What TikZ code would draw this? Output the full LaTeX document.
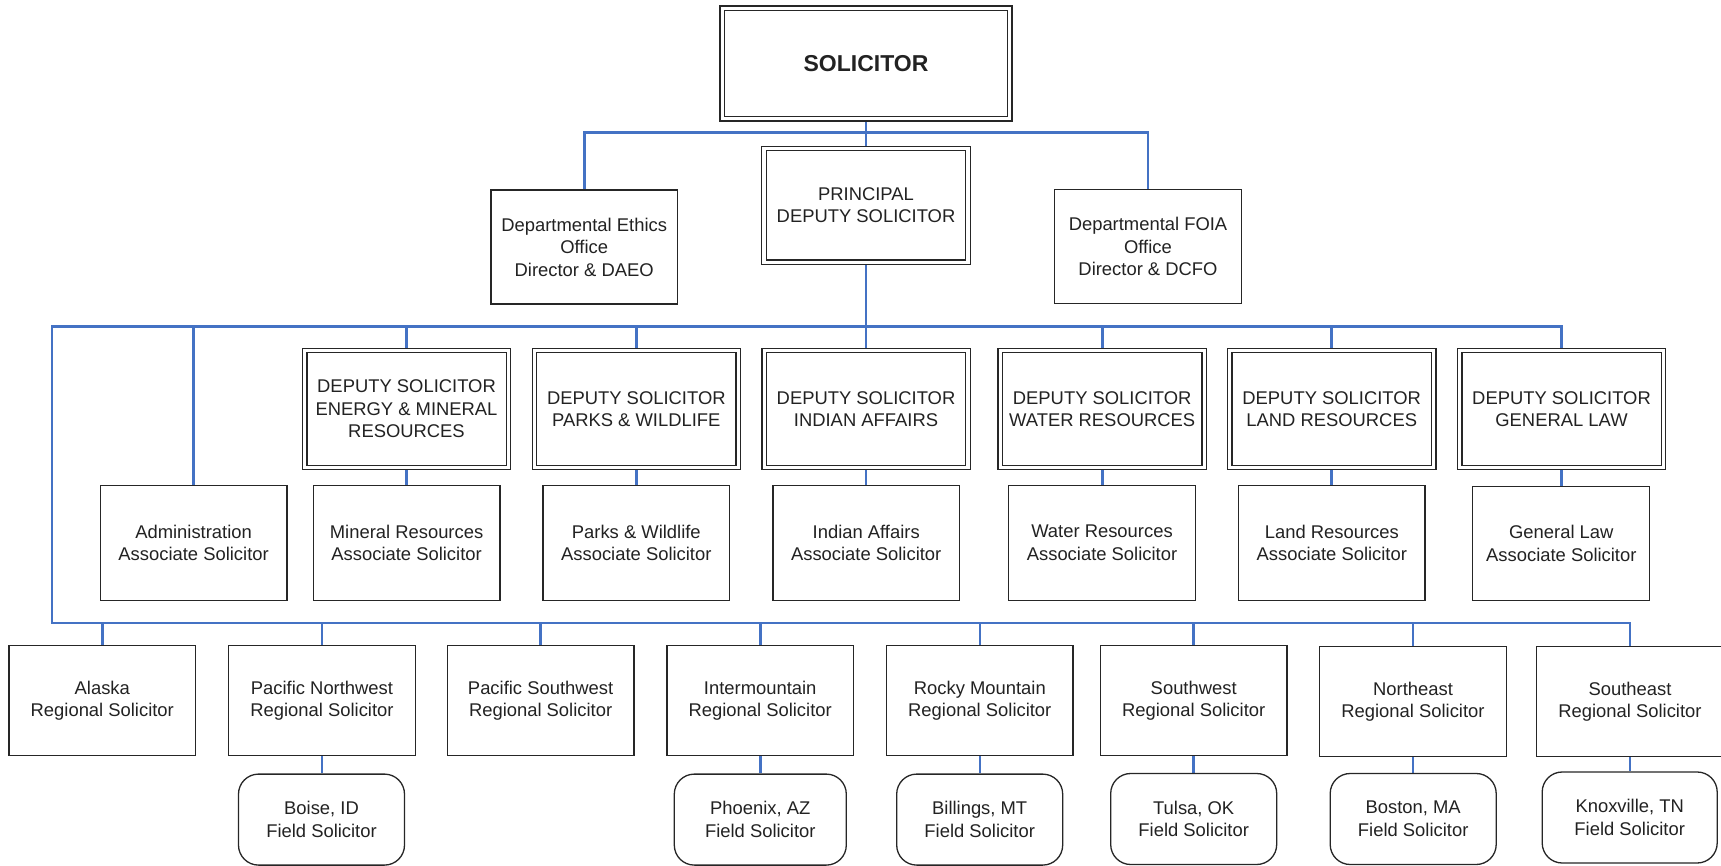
\documentclass[tikz,border=0pt]{standalone}
\usepackage{fontspec}
\newfontfamily\lsans{Liberation Sans}
\usetikzlibrary{backgrounds}
\definecolor{lnblue}{HTML}{4472C4}
\definecolor{bordc}{HTML}{262626}
\definecolor{txtc}{HTML}{222222}
\tikzset{
  box/.style={draw=bordc, line width=0.65pt, fill=white, text=txtc, align=center,
    font=\lsans\fontsize{9.2}{11.25}\selectfont, inner sep=0pt},
  dbox/.style={box, double=white, double distance=1.6pt},
  dsbox/.style={dbox, minimum width=101.9pt, minimum height=58.5pt},
  topbox/.style={box, minimum width=93.3pt, minimum height=57pt},
  assoc/.style={box, minimum width=93.3pt, minimum height=57.3pt},
  regbox/.style={box, minimum width=93.3pt, minimum height=55.3pt},
  fieldbox/.style={box, rounded corners=10pt, minimum width=83pt, minimum height=45.5pt},
  conn/.style={draw=lnblue, line width=1.3pt}
}
\begin{document}
\begin{tikzpicture}[x=0.5pt,y=-0.5pt]
\clip (0,0) rectangle (1721,866);
% top
\node[dbox, minimum width=143.8pt, minimum height=55.3pt,
  font=\lsans\bfseries\fontsize{11.5}{13.8}\selectfont] (sol) at (866,63.5) {SOLICITOR};
\node[dbox, minimum width=102pt, minimum height=56.8pt] (pds) at (866,205.4) {PRINCIPAL\\DEPUTY SOLICITOR};
\node[topbox] (eth) at (584.2,247) {Departmental Ethics\\Office\\Director \& DAEO};
\node[topbox] (foia) at (1148,246.7) {Departmental FOIA\\Office\\Director \& DCFO};
% deputy solicitors
\node[dsbox] (ds1) at (406.5,409) {DEPUTY SOLICITOR\\ENERGY \& MINERAL\\RESOURCES};
\node[dsbox] (ds2) at (636.3,409) {DEPUTY SOLICITOR\\PARKS \& WILDLIFE};
\node[dsbox] (ds3) at (866,409) {DEPUTY SOLICITOR\\INDIAN AFFAIRS};
\node[dsbox] (ds4) at (1102.2,409) {DEPUTY SOLICITOR\\WATER RESOURCES};
\node[dsbox] (ds5) at (1331.7,409) {DEPUTY SOLICITOR\\LAND RESOURCES};
\node[dsbox] (ds6) at (1561.5,409) {DEPUTY SOLICITOR\\GENERAL LAW};
% associates
\node[assoc] (adm) at (193.6,543) {Administration\\Associate Solicitor};
\node[assoc] (as1) at (406.6,543) {Mineral Resources\\Associate Solicitor};
\node[assoc] (as2) at (636.3,543) {Parks \& Wildlife\\Associate Solicitor};
\node[assoc] (as3) at (866.2,543) {Indian Affairs\\Associate Solicitor};
\node[assoc] (as4) at (1102,543) {Water Resources\\Associate Solicitor};
\node[assoc] (as5) at (1331.8,543) {Land Resources\\Associate Solicitor};
\node[assoc, minimum width=88.5pt] (as6) at (1561.3,543.5) {General Law\\Associate Solicitor};
% regional
\node[regbox] (r1) at (102.3,700.5) {Alaska\\Regional Solicitor};
\node[regbox] (r2) at (322,700.5) {Pacific Northwest\\Regional Solicitor};
\node[regbox] (r3) at (540.6,700.5) {Pacific Southwest\\Regional Solicitor};
\node[regbox] (r4) at (760.2,700.5) {Intermountain\\Regional Solicitor};
\node[regbox] (r5) at (979.8,700.5) {Rocky Mountain\\Regional Solicitor};
\node[regbox] (r6) at (1193.7,700.5) {Southwest\\Regional Solicitor};
\node[regbox] (r7) at (1413,701.5) {Northeast\\Regional Solicitor};
\node[regbox] (r8) at (1630,701.5) {Southeast\\Regional Solicitor};
% field
\node[fieldbox] (f2) at (321.5,819.6) {Boise, ID\\Field Solicitor};
\node[fieldbox, minimum width=86pt] (f4) at (760.3,819.6) {Phoenix, AZ\\Field Solicitor};
\node[fieldbox] (f5) at (979.7,819.6) {Billings, MT\\Field Solicitor};
\node[fieldbox] (f6) at (1193.7,819) {Tulsa, OK\\Field Solicitor};
\node[fieldbox] (f7) at (1413.2,819) {Boston, MA\\Field Solicitor};
\node[fieldbox, minimum width=87.5pt] (f8) at (1629.7,817.5) {Knoxville, TN\\Field Solicitor};
% bus coordinates
\coordinate (bus0) at (866,132.5);
\coordinate (busA) at (52,326.5);
\coordinate (busB) at (52,623);
\begin{pgfonlayer}{background}
\draw[conn] (sol.south) -- (pds.north);
\draw[conn] (eth.north) |- (bus0) -| (foia.north);
\draw[conn] (pds.south) -- (ds3.north);
\draw[conn] (ds6.north) |- (busA) -- (busB) -| (r8.north);
\foreach \n in {adm,ds1,ds2,ds4,ds5}{\draw[conn] (\n.north) -- (\n.north |- busA);}
\foreach \n in {r1,r2,r3,r4,r5,r6,r7}{\draw[conn] (\n.north) -- (\n.north |- busB);}
\foreach \a/\b in {ds1/as1,ds2/as2,ds3/as3,ds4/as4,ds5/as5,ds6/as6,r2/f2,r4/f4,r5/f5,r6/f6,r7/f7,r8/f8}{\draw[conn] (\a.south) -- (\a.south |- \b.north);}
\end{pgfonlayer}
\end{tikzpicture}
\end{document}
